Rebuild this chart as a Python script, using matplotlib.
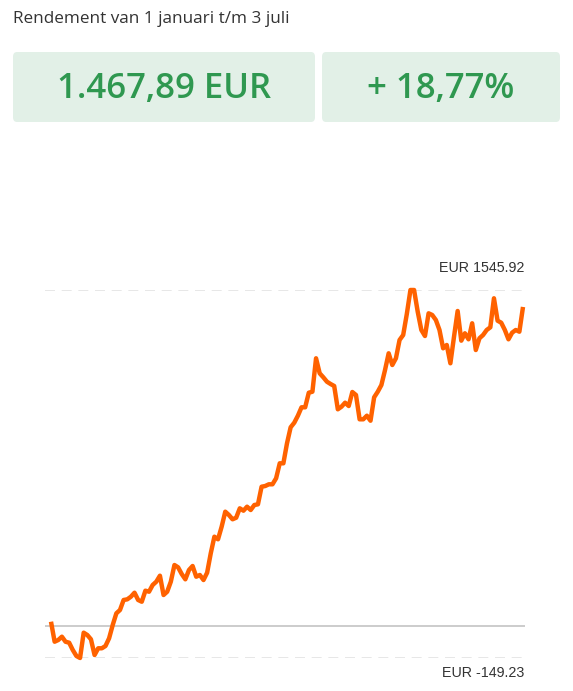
import matplotlib
matplotlib.use("Agg")
import matplotlib.pyplot as plt
from matplotlib.patches import FancyBboxPatch
import numpy as np

W, H = 573, 691

title = "Rendement van 1 januari t/m 3 juli"
box_labels = ["1.467,89 EUR", "+ 18,77%"]
max_label = "EUR 1545.92"
min_label = "EUR -149.23"
y_max = 1545.92
y_min = -149.23

values = [
    18.0, -74.2, -66.3, -51.1, -74.2, -78.8, -112.4, -140.0, -149.23, -32.7,
    -43.3, -63.1, -135.4, -104.5, -104.5, -94.0, -58.5, 2.8, 56.6, 71.9,
    118.0, 121.0, 133.0, 151.6, 118.0, 110.0, 160.8, 156.2, 187.0, 202.2,
    229.9, 141.0, 156.2, 202.2, 279.1, 268.5, 237.7, 213.3, 256.1, 274.5,
    225.2, 233.1, 210.0, 243.7, 333.0, 409.5, 397.5, 455.6, 524.7, 509.5,
    489.7, 497.0, 540.3, 529.3, 547.7, 532.5, 555.5, 558.7, 639.8, 643.0,
    650.9, 650.9, 678.5, 747.6, 747.6, 839.7, 913.4, 934.6, 966.9, 1005.6,
    1005.6, 1072.8, 1077.4, 1231.3, 1162.2, 1143.8, 1123.5, 1112.9, 1103.7, 996.4,
    1008.3, 1026.8, 1011.6, 1076.0, 1062.2, 950.3, 950.3, 966.9, 943.8, 1051.6,
    1077.4, 1108.3, 1177.4, 1254.3, 1200.4, 1231.3, 1315.6, 1338.6, 1435.3, 1545.92,
    1545.92, 1446.0, 1361.7, 1334.0, 1438.6, 1430.8, 1407.7, 1361.7, 1277.4, 1292.6,
    1208.3, 1330.8, 1449.2, 1312.4, 1346.5, 1318.8, 1392.5, 1269.5, 1323.4, 1338.6,
    1361.7, 1374.1, 1507.7, 1404.5, 1395.3, 1361.7, 1318.8, 1349.2, 1361.7, 1353.8,
    1467.89,
]

plt.rcParams['font.family'] = ['Open Sans', 'DejaVu Sans']

fig = plt.figure(figsize=(W / 100, H / 100), dpi=100)
fig.patch.set_facecolor("white")

def fx(px):
    return px / W

def fy(py):
    return 1 - py / H

# Title
fig.text(fx(13), fy(19), title, fontsize=12.3, color="#333333",
         ha="left", va="center")

# Boxes
box_color = "#E2F0E7"
green = "#2F9850"
boxes = [(13, 52, 315, 122), (322, 52, 560, 122)]
for (x0, y0, x1, y1), lab in zip(boxes, box_labels):
    p = FancyBboxPatch((fx(x0), fy(y1)), fx(x1 - x0), (y1 - y0) / H,
                       boxstyle="round,pad=0,rounding_size=0.007",
                       transform=fig.transFigure, facecolor=box_color,
                       edgecolor="none")
    fig.add_artist(p)
    fig.text(fx((x0 + x1) / 2), fy(89), lab, fontsize=25, fontweight="semibold",
             color=green, ha="center", va="center")

# Chart axes: x 45..525 px, y 290..658 px
ax = fig.add_axes([fx(45), fy(658), fx(525 - 45), (658 - 290) / H])
n = len(values)
xs = np.arange(n)
span = n - 1
ax.set_xlim(-6 / 472 * span, span + 2 / 472 * span)
ax.set_ylim(y_min, y_max)
ax.axis("off")

ax.axhline(y_max, color="#e3e3e3", lw=1.2, ls=(0, (6, 4)), zorder=1)
ax.axhline(y_min, color="#e3e3e3", lw=1.2, ls=(0, (6, 4)), zorder=1)
ax.axhline(0, color="#c4c4c4", lw=1.2, zorder=1)
ax.plot(xs, values, color="#FF6200", lw=3.2, solid_joinstyle="round",
        solid_capstyle="butt", clip_on=False, zorder=3)

fig.text(fx(524), fy(268), max_label, fontsize=10.3, color="#333333",
         family=["Liberation Sans", "DejaVu Sans"], ha="right", va="center")
fig.text(fx(524), fy(673), min_label, fontsize=10.3, color="#333333",
         family=["Liberation Sans", "DejaVu Sans"], ha="right", va="center")

fig.savefig("out.png", dpi=100)
